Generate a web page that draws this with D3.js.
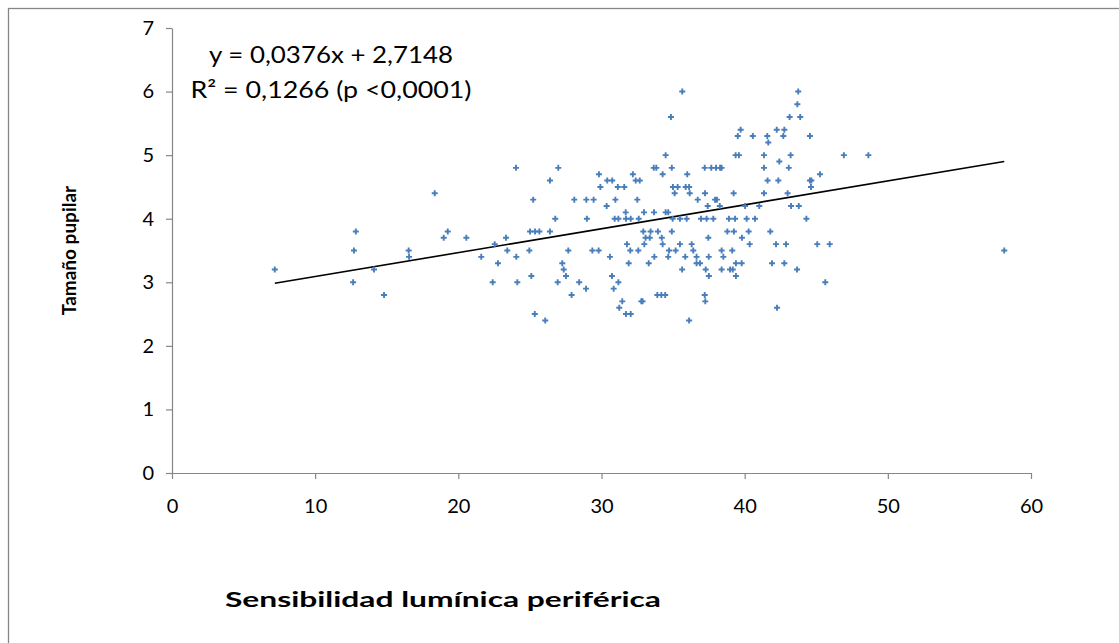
<!DOCTYPE html>
<html>
<head>
<meta charset="utf-8">
<script src="https://cdn.jsdelivr.net/npm/d3@7"></script>
<style>
  body { margin: 0; background: #fff; }
  svg { display: block; }
  text { font-family: Lato, "Open Sans", sans-serif; fill: #000; }
</style>
</head>
<body>
<svg id="chart" width="1119" height="643"></svg>
<script>
// Sensibilidad lumínica periférica (x) and tamaño pupilar (y), one entry per subject
const sensibilidad = [
  7.18, 12.65, 12.71, 12.84, 14.11, 14.81, 16.53, 16.56, 18.35, 18.98, 19.26, 20.56, 21.60, 22.40, 22.54, 22.77, 23.33, 23.42, 24.05, 24.12, 24.03,
  26.98, 26.40, 29.82, 30.40, 30.75, 29.92, 31.14, 31.59, 32.19, 32.39, 32.67, 33.65, 33.83, 34.48, 34.27, 34.91, 35.99, 34.99, 35.32, 35.88, 36.12, 35.11, 36.16, 36.72,
  25.23, 28.10, 28.94, 29.45, 30.97, 32.50, 30.36, 31.69, 32.97, 33.67, 34.48, 34.66, 26.77, 28.98, 30.92, 31.18, 31.71, 32.04, 32.60, 34.97, 35.48, 35.95,
  25.01, 25.36, 25.66, 26.40, 32.92, 33.43, 33.94, 34.91, 33.08, 33.37, 34.21, 24.96, 27.68, 29.36, 29.80, 31.78, 32.99, 34.27, 35.48, 36.30,
  32.01, 32.57, 34.72, 35.18, 36.41, 30.59, 33.69, 34.66, 35.85, 36.64, 27.26, 31.90, 33.30, 36.64, 36.88, 27.36, 35.63, 27.52, 25.10, 30.73,
  26.94, 28.44, 31.18, 28.92, 30.85,
  27.91, 31.45, 31.24, 32.78, 32.87, 31.71, 32.04, 33.90, 34.18, 34.45, 25.34, 26.07, 36.12,
  43.74, 43.68, 43.14, 43.88, 39.72, 39.52, 40.57, 41.58, 41.65, 42.24, 42.77, 42.70, 44.56, 39.37, 39.60, 41.35, 43.21, 46.93, 42.42,
  37.21, 37.67, 38.00, 38.28, 38.39, 41.35, 43.08, 41.60, 42.35, 44.56, 44.66, 45.26, 44.63, 37.23, 39.23, 41.35, 43.00, 37.93, 38.06,
  37.42, 38.26, 40.03, 41.02, 43.24, 43.78, 36.95, 37.34, 37.81, 38.90, 39.33, 40.14, 40.72, 44.31, 38.79, 39.25, 40.28, 41.79,
  37.46, 39.81, 40.35, 42.19, 42.89, 45.07, 45.94, 38.39, 39.13, 37.49, 38.51,
  37.28, 37.50, 38.39, 38.98, 39.17, 39.39, 39.79, 39.39, 41.91, 42.77, 43.66, 45.63, 37.21, 37.25, 42.26,
  48.64, 58.13, 35.64, 34.85
];
const tamano = [
  3.2, 3.0, 3.5, 3.8, 3.2, 2.8, 3.5, 3.4, 4.4, 3.7, 3.8, 3.7, 3.4, 3.0, 3.6, 3.3, 3.7, 3.5, 3.4, 3.0, 4.8,
  4.8, 4.6, 4.7, 4.6, 4.6, 4.5, 4.5, 4.5, 4.7, 4.6, 4.6, 4.8, 4.8, 5.0, 4.7, 4.8, 4.7, 4.5, 4.5, 4.5, 4.5, 4.4, 4.4, 4.3,
  4.3, 4.3, 4.3, 4.3, 4.3, 4.3, 4.2, 4.1, 4.1, 4.1, 4.1, 4.1, 4.0, 4.0, 4.0, 4.0, 4.0, 4.0, 4.0, 4.0, 4.0, 4.0,
  3.8, 3.8, 3.8, 3.8, 3.8, 3.8, 3.8, 3.8, 3.7, 3.7, 3.7, 3.5, 3.5, 3.5, 3.5, 3.6, 3.6, 3.6, 3.6, 3.6,
  3.5, 3.5, 3.5, 3.5, 3.5, 3.4, 3.4, 3.4, 3.4, 3.4, 3.3, 3.3, 3.3, 3.3, 3.3, 3.2, 3.2, 3.1, 3.1, 3.1,
  3.0, 3.0, 3.0, 2.9, 2.9,
  2.8, 2.7, 2.6, 2.7, 2.7, 2.5, 2.5, 2.8, 2.8, 2.8, 2.5, 2.4, 2.4,
  6.0, 5.8, 5.6, 5.6, 5.4, 5.3, 5.3, 5.3, 5.2, 5.4, 5.4, 5.3, 5.3, 5.0, 5.0, 5.0, 5.0, 5.0, 4.9,
  4.8, 4.8, 4.8, 4.8, 4.8, 4.8, 4.8, 4.6, 4.6, 4.6, 4.6, 4.7, 4.5, 4.4, 4.4, 4.4, 4.4, 4.3, 4.3,
  4.2, 4.2, 4.2, 4.2, 4.2, 4.2, 4.0, 4.0, 4.0, 4.0, 4.0, 4.0, 4.0, 4.0, 3.8, 3.8, 3.8, 3.8,
  3.7, 3.7, 3.6, 3.6, 3.6, 3.6, 3.6, 3.5, 3.5, 3.4, 3.4,
  3.2, 3.1, 3.2, 3.2, 3.2, 3.3, 3.3, 3.1, 3.3, 3.3, 3.2, 3.0, 2.8, 2.7, 2.6,
  5.0, 3.5, 6.0, 5.6
];

const xTicks = [0, 10, 20, 30, 40, 50, 60];
const yTicks = [0, 1, 2, 3, 4, 5, 6, 7];

// Linear trend fitted to the sample
const slope = 0.0376;
const intercept = 2.7148;
const equationLines = ["y = 0,0376x + 2,7148", "R\u00B2 = 0,1266 (p <0,0001)"];
const xTitle = "Sensibilidad lumínica periférica";
const yTitle = "Tamaño pupilar";

const points = sensibilidad.map((v, i) => ({ x: v, y: tamano[i] }));

const svg = d3.select("#chart");
const axisColor = "#868686";

// Outer chart frame
svg.append("rect")
  .attr("x", 8.5).attr("y", 8.5)
  .attr("width", 1400).attr("height", 900)
  .attr("fill", "none")
  .attr("stroke", axisColor)
  .attr("stroke-width", 1.3);

const x = d3.scaleLinear().domain([0, 60]).range([172, 1031]);
const y = d3.scaleLinear().domain([0, 7]).range([473, 28]);

// X axis
const gx = svg.append("g")
  .attr("transform", `translate(0,${y(0)})`)
  .call(d3.axisBottom(x).tickValues(xTicks).tickSizeInner(6).tickSizeOuter(0).tickPadding(20)
    .tickFormat(d3.format("d")));
// Y axis
const gy = svg.append("g")
  .attr("transform", `translate(${x(0)},0)`)
  .call(d3.axisLeft(y).tickValues(yTicks).tickSizeInner(6).tickSizeOuter(0).tickPadding(12)
    .tickFormat(d3.format("d")));

[gx, gy].forEach(g => {
  g.select(".domain").attr("stroke", axisColor).attr("stroke-width", 1.2);
  g.selectAll(".tick line").attr("stroke", axisColor).attr("stroke-width", 1.2);
  g.selectAll(".tick text")
    .attr("fill", "#000")
    .style("font-family", "Lato, 'Open Sans', sans-serif")
    .style("font-size", "20px");
});

// Trend line over the observed range
const xExtent = d3.extent(sensibilidad);
const trend = xExtent.map(v => ({ x: v, y: intercept + slope * v }));
svg.append("path")
  .datum(trend)
  .attr("d", d3.line().x(d => x(d.x)).y(d => y(d.y)))
  .attr("fill", "none")
  .attr("stroke", "#000")
  .attr("stroke-width", 1.6);

// Scatter markers: small plus signs
const half = 3;
svg.append("g")
  .selectAll("path")
  .data(points)
  .join("path")
  .attr("transform", d => `translate(${x(d.x)},${y(d.y)})`)
  .attr("d", `M${-half},0H${half}M0,${-half}V${half}`)
  .attr("stroke", "#4a7ebb")
  .attr("stroke-width", 1.9)
  .attr("fill", "none");

// Regression equation
const eqWidths = [244, 281];
equationLines.forEach((t, i) => {
  svg.append("text")
    .attr("x", 331)
    .attr("y", 63 + i * 35)
    .attr("text-anchor", "middle")
    .attr("textLength", eqWidths[i])
    .attr("lengthAdjust", "spacingAndGlyphs")
    .style("font-size", "23px")
    .text(t);
});

// Axis titles
svg.append("text")
  .attr("x", 443)
  .attr("y", 607)
  .attr("text-anchor", "middle")
  .attr("textLength", 436)
  .attr("lengthAdjust", "spacingAndGlyphs")
  .style("font-size", "21px")
  .style("font-weight", "bold")
  .text(xTitle);

svg.append("text")
  .attr("transform", `translate(76,${(y(0) + y(7)) / 2}) rotate(-90)`)
  .attr("text-anchor", "middle")
  .style("font-size", "19px")
  .style("font-weight", "bold")
  .text(yTitle);
</script>
</body>
</html>
